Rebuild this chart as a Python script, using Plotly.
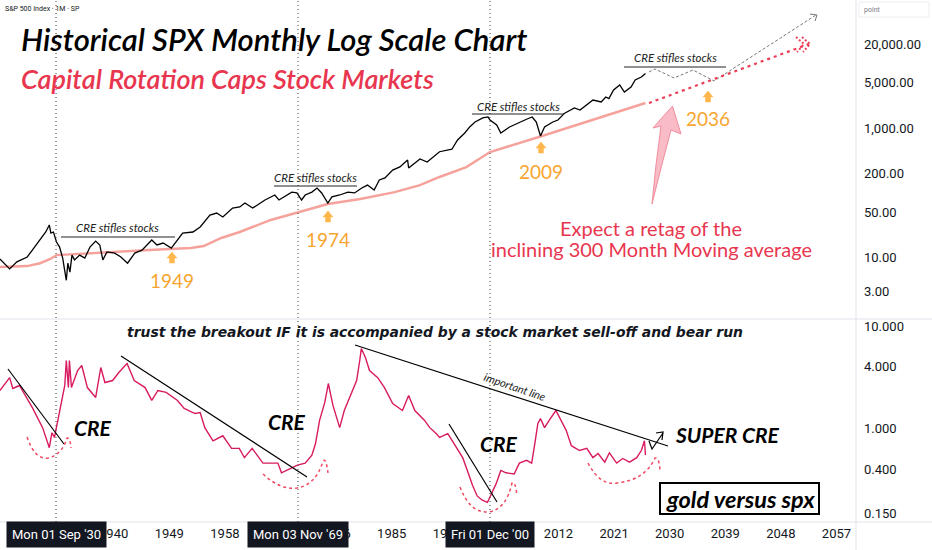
import plotly.graph_objects as go

# S&P 500 monthly closes
spx_dates = [
    "1921-08", "1923-03", "1924-05", "1926-01", "1926-11", "1928-02", "1929-01", "1929-08",
    "1929-11", "1930-04", "1930-10", "1931-04", "1931-10", "1932-05", "1932-08", "1932-12",
    "1933-04", "1933-09", "1934-07", "1935-05", "1936-03", "1937-02", "1937-10", "1938-04",
    "1938-12", "1940-03", "1941-03", "1942-04", "1943-06", "1944-08", "1946-03", "1947-01",
    "1948-01", "1949-05", "1950-04", "1951-03", "1952-11", "1954-01", "1955-08", "1956-09",
    "1957-09", "1959-04", "1960-06", "1961-04", "1962-07", "1964-07", "1966-02", "1966-10",
    "1968-11", "1969-09", "1970-06", "1971-01", "1972-02", "1972-12", "1973-09", "1974-09",
    "1975-05", "1976-08", "1977-12", "1979-01", "1980-03", "1981-02", "1982-03", "1983-01",
    "1983-12", "1985-03", "1986-05", "1987-08", "1987-10", "1988-10", "1989-08", "1990-10",
    "1991-09", "1992-10", "1994-10", "1995-09", "1996-11", "1997-09", "1998-07", "1999-10",
    "2000-08", "2000-12", "2002-01", "2002-09", "2004-02", "2005-06", "2006-12", "2007-10",
    "2008-06", "2009-02", "2009-10", "2011-02", "2011-12", "2013-01", "2014-08", "2015-07",
    "2016-10", "2017-08", "2018-12", "2019-09", "2020-03", "2020-12", "2021-12", "2022-09",
    "2023-10", "2024-06", "2025-06", "2026-02",
]
spx_close = [
    9.4, 6.6, 8.5, 10.1, 12.9, 18.5, 24.6, 31.6,
    23.7, 24.6, 17.2, 14.4, 9.7, 4.4, 8.1, 5.9,
    10.8, 9.1, 10.8, 9.7, 14.4, 17.8, 15.5, 9.1,
    12.1, 11.6, 10.1, 8.1, 11.6, 12.9, 18.5, 15.5,
    16.6, 13.9, 18.5, 23.7, 24.6, 29.4, 45, 48.4,
    42, 57.8, 60, 69, 57.8, 77, 92, 77,
    102, 99, 77, 92, 102, 118, 99, 69,
    86, 92, 102, 99, 118, 131, 110, 157,
    169, 224, 250, 320, 241, 288, 332, 298,
    356, 430, 470, 653, 838, 1050, 1241, 1432,
    1484, 1333, 1114, 838, 1038, 1197, 1380, 1484,
    1241, 753, 1038, 1241, 1333, 1700, 2043, 1900,
    2400, 2716, 2531, 3027, 2850, 3880, 4637, 3610,
    4317, 5541, 6170, 7000,
]

# 300 month moving average
ma_dates = [
    "1921-08", "1926-01", "1928-02", "1929-10", "1930-10", "1937-10", "1945-10", "1952-07",
    "1954-08", "1957-06", "1960-06", "1965-06", "1969-11", "1974-09", "1979-12", "1985-07",
    "1989-08", "1992-10", "1997-02", "2000-12", "2009-02", "2026-02",
]
ma_values = [
    7.1, 7.3, 8.1, 9.4, 10.8, 11.6, 12.9, 13.9,
    14.9, 19.9, 24.6, 37.8, 50, 66.7, 80, 102,
    131, 175, 249, 425, 740, 2440,
]

# gold / spx ratio
ratio_dates = [
    "1921-08", "1923-03", "1923-09", "1924-10", "1926-11", "1928-07", "1929-08", "1930-01",
    "1930-06", "1931-01", "1931-07", "1932-02", "1932-05", "1932-09", "1932-11", "1933-03",
    "1934-03", "1934-11", "1935-10", "1937-02", "1937-12", "1938-08", "1939-11", "1940-11",
    "1942-03", "1943-05", "1945-02", "1946-03", "1947-03", "1948-07", "1950-05", "1951-06",
    "1953-03", "1954-01", "1954-10", "1956-02", "1957-09", "1959-02", "1960-05", "1961-03",
    "1962-06", "1964-03", "1966-08", "1967-03", "1968-10", "1969-10", "1971-01", "1972-02",
    "1972-09", "1973-05", "1974-03", "1974-10", "1975-07", "1976-08", "1977-05", "1978-03",
    "1979-05", "1979-11", "1980-02", "1980-10", "1981-06", "1982-10", "1983-11", "1985-03",
    "1986-10", "1987-10", "1988-10", "1990-05", "1991-03", "1992-04", "1992-10", "1994-02",
    "1995-03", "1996-07", "1997-04", "1998-02", "1998-11", "1999-09", "2000-07", "2001-03",
    "2001-12", "2002-09", "2003-07", "2004-11", "2005-09", "2006-11", "2007-09", "2008-03",
    "2008-09", "2009-02", "2009-10", "2010-07", "2011-08", "2012-06", "2013-04", "2014-02",
    "2015-06", "2016-08", "2017-08", "2018-06", "2019-07", "2020-04", "2021-06", "2022-06",
    "2023-07", "2024-09", "2025-06", "2025-12", "2026-02",
]
ratio_values = [
    2.35, 3.14, 2.46, 2.63, 1.60, 1.02, 0.65, 0.91,
    0.82, 1.25, 1.75, 2.63, 4.61, 2.51, 4.61, 2.51,
    3.68, 4.12, 2.51, 2.01, 3.94, 2.81, 2.94, 3.52,
    4.31, 2.94, 2.51, 1.88, 2.35, 2.25, 1.88, 1.57,
    1.40, 1.43, 1.02, 0.76, 0.85, 0.64, 0.64, 0.52,
    0.64, 0.46, 0.46, 0.37, 0.41, 0.44, 0.46, 0.55,
    0.71, 1.20, 1.79, 2.75, 1.68, 1.02, 1.50, 2.01,
    2.94, 4.61, 6.03, 4.93, 3.68, 3.14, 2.51, 1.75,
    1.50, 2.10, 1.50, 1.20, 1.02, 0.89, 0.82, 0.89,
    0.71, 0.52, 0.39, 0.28, 0.22, 0.20, 0.19, 0.23,
    0.29, 0.39, 0.37, 0.36, 0.46, 0.49, 0.46, 0.71,
    1.12, 1.25, 1.02, 1.20, 1.50, 1.20, 0.96, 0.68,
    0.61, 0.64, 0.52, 0.57, 0.47, 0.58, 0.46, 0.51,
    0.47, 0.52, 0.61, 0.76, 0.55,
]

year_ticks = ["1922", "1931", "1940", "1949", "1958", "1967", "1976", "1985",
              "1994", "2003", "2012", "2021", "2030", "2039", "2048", "2057"]
spx_ticks = [3, 10, 50, 200, 1000, 5000, 20000]
spx_tick_text = ["3.00", "10.00", "50.00", "200.00", "1,000.00", "5,000.00", "20,000.00"]
ratio_ticks = [0.15, 0.4, 1, 4, 10]
ratio_tick_text = ["0.150", "0.400", "1.000", "4.000", "10.000"]

crosshair_dates = ["1930-09-01", "1969-11-03", "2000-12-01"]
crosshair_labels = ["Mon 01 Sep '30", "Mon 03 Nov '69", "Fri 01 Dec '00"]

# drawings are placed in pixel space of the plot area (856 x 522)
PW, PH = 856, 522
FONT = "Lato"
WIDE = "DejaVu Sans"
RED = "#e8364f"
ORANGE = "#f7a531"


def px(x, y):
    return x / PW, (PH - y) / PH


def path(points, close=False):
    parts = []
    for i, (x, y) in enumerate(points):
        u, v = px(x, y)
        parts.append(("M" if i == 0 else "L") + f"{u:.5f},{v:.5f}")
    return " ".join(parts) + (" Z" if close else "")


def curve(start, segs):
    u, v = px(*start)
    s = f"M{u:.5f},{v:.5f}"
    for c, e in segs:
        cu, cv = px(*c)
        eu, ev = px(*e)
        s += f" Q{cu:.5f},{cv:.5f} {eu:.5f},{ev:.5f}"
    return s


def text(x, y, t, size, color="#131722", weight="normal", style="normal", family=FONT,
         xanchor="center", **kw):
    u, v = px(x, y)
    return dict(x=u, y=v, xref="paper", yref="paper", text=t, showarrow=False,
                xanchor=xanchor, yanchor="middle",
                font=dict(family=family, size=size, color=color, weight=weight, style=style), **kw)


fig = go.Figure()

fig.add_trace(go.Scatter(x=ma_dates, y=ma_values, mode="lines",
                         line=dict(color="#f6a29c", width=2.5), yaxis="y"))
fig.add_trace(go.Scatter(x=spx_dates, y=spx_close, mode="lines",
                         line=dict(color="#000000", width=1.3), yaxis="y"))
fig.add_trace(go.Scatter(x=ratio_dates, y=ratio_values, mode="lines",
                         line=dict(color="#d81b60", width=1.4), yaxis="y2"))

shapes = []
annotations = []

# pane frame lines
grey = "#e0e3eb"
shapes.append(dict(type="line", xref="paper", yref="paper", x0=0, x1=932 / PW,
                   y0=px(0, 319)[1], y1=px(0, 319)[1], line=dict(color=grey, width=1)))
shapes.append(dict(type="line", xref="paper", yref="paper", x0=0, x1=932 / PW,
                   y0=0, y1=0, line=dict(color=grey, width=1)))
shapes.append(dict(type="line", xref="paper", yref="paper", x0=1, x1=1,
                   y0=-28 / PH, y1=1, line=dict(color=grey, width=1)))
shapes.append(dict(type="rect", xref="paper", yref="paper",
                   x0=px(859, 2)[0], x1=px(929, 2)[0], y0=px(0, 2)[1], y1=px(0, 17)[1],
                   line=dict(color="#eceef3", width=1)))
annotations.append(text(862, 10, "point", 7, "#787b86", family="Roboto", xanchor="left"))
annotations.append(text(3, 9, "S&P 500 Index · 1M · SP", 7, "#131722", family="Roboto",
                        xanchor="left"))

# crosshair lines and date labels
for d, lab in zip(crosshair_dates, crosshair_labels):
    shapes.append(dict(type="line", xref="x", yref="paper", x0=d, x1=d, y0=0, y1=1,
                       line=dict(color="#3a3a3a", width=1, dash="1px,3px")))
    annotations.append(dict(x=d, y=-12 / PH, xref="x", yref="paper", text=lab,
                            showarrow=False, bgcolor="#131722", borderpad=5,
                            xanchor="center", yanchor="middle",
                            font=dict(family="Roboto", size=13, color="#ffffff")))

# titles
annotations.append(text(19, 39, "Historical SPX Monthly Log Scale Chart", 31,
                        "#000000", 600, "italic", xanchor="left"))
annotations.append(text(19, 78, "Capital Rotation Caps Stock Markets", 27,
                        RED, 600, "italic", xanchor="left"))

# CRE stifles stocks
for cx, cy, x0, x1, ly in [(118, 227, 61, 175, 237), (315, 177, 274, 357, 186),
                           (518, 106, 472, 564, 114), (675, 57, 624, 726, 67)]:
    annotations.append(text(cx, cy, "CRE stifles stocks", 11.5, "#222222", "normal", "italic"))
    shapes.append(dict(type="path", xref="paper", yref="paper",
                       path=path([(x0, ly), (x1, ly)]), line=dict(color="#222222", width=1.2)))

# orange markers with years
for cx, ay, ty, lab in [(172, 258, 280, "1949"), (328, 217, 239, "1974"),
                        (541, 148, 171, "2009"), (708, 97, 118, "2036")]:
    shapes.append(dict(type="path", xref="paper", yref="paper", fillcolor="#ffb74d",
                       line=dict(color="#ffb74d", width=0.5),
                       path=path([(cx - 5, ay), (cx, ay - 6), (cx + 5, ay), (cx + 2.5, ay),
                                  (cx + 2.5, ay + 5), (cx - 2.5, ay + 5), (cx - 2.5, ay)], True)))
    annotations.append(text(cx, ty, lab, 19, ORANGE))

# projection of spx (grey dashed) and of the moving average (red dotted)
shapes.append(dict(type="path", xref="paper", yref="paper",
                   path=path([(649, 72), (655, 69), (674, 78), (693, 70), (714, 81), (816, 15)]),
                   line=dict(color="#777777", width=1, dash="3px,2px")))
shapes.append(dict(type="path", xref="paper", yref="paper",
                   path=path([(810, 14), (817, 15), (815, 21)]),
                   line=dict(color="#777777", width=1)))
shapes.append(dict(type="path", xref="paper", yref="paper",
                   path=path([(649, 103), (809, 44)]),
                   line=dict(color="#ec3f57", width=2.2, dash="3px,4px")))
for off in (0, -6):
    shapes.append(dict(type="path", xref="paper", yref="paper",
                       path=path([(802 + off, 37), (810 + off, 44), (803 + off, 52)]),
                       line=dict(color="#ec3f57", width=2, dash="2px,2px")))

# big pink arrow
shapes.append(dict(type="path", xref="paper", yref="paper",
                   path=path([(652, 204), (656, 165), (661, 126), (653, 128), (672.5, 106),
                              (681, 134), (671, 130), (661, 168)], True),
                   fillcolor="rgba(247,170,182,0.8)", line=dict(color="#f08d9e", width=1)))

annotations.append(text(651, 228, "Expect a retag of the", 20, RED))
annotations.append(text(651, 249, "inclining 300 Month Moving average", 20, RED))

# lower pane drawings
annotations.append(text(435, 332, "trust the breakout IF it is accompanied by a stock market sell-off and bear run",
                        13.9, "#131722", "bold", "italic", WIDE))
for cx, cy in [(93, 427), (287, 421), (499, 443)]:
    annotations.append(text(cx, cy, "CRE", 21, "#000000", "bold", "italic"))
annotations.append(text(727, 434, "SUPER CRE", 21, "#000000", "bold", "italic"))

for seg in [[(8, 369), (64, 444)], [(121, 356), (307, 477)],
            [(355, 345), (668, 446)], [(449, 424), (497, 502)]]:
    shapes.append(dict(type="path", xref="paper", yref="paper", path=path(seg),
                       line=dict(color="#000000", width=1.2)))
annotations.append(text(515, 386, "important line", 11, "#222222", "normal", "italic", textangle=19))

shapes.append(dict(type="path", xref="paper", yref="paper",
                   path=path([(649, 441), (652, 449), (663, 433)]),
                   line=dict(color="#000000", width=1.2)))
shapes.append(dict(type="path", xref="paper", yref="paper",
                   path=path([(656, 433), (663, 432), (662, 440)]),
                   line=dict(color="#000000", width=1.2)))

for start, segs in [
    ((27, 437), [((35, 460), (48, 458)), ((62, 455), (67, 438)), ((70, 437), (71, 448))]),
    ((263, 474), [((280, 490), (297, 488)), ((316, 485), (323, 461)), ((326, 457), (328, 473))]),
    ((460, 487), [((470, 513), (488, 512)), ((506, 510), (512, 483)), ((515, 480), (517, 495))]),
    ((588, 463), [((600, 486), (617, 483)), ((645, 480), (655, 458)), ((659, 457), (660, 470))]),
]:
    shapes.append(dict(type="path", xref="paper", yref="paper", path=curve(start, segs),
                       line=dict(color="#f04a62", width=1.5, dash="3px,3px")))

shapes.append(dict(type="rect", xref="paper", yref="paper",
                   x0=px(660, 0)[0], x1=px(819, 0)[0], y0=px(0, 514)[1], y1=px(0, 483)[1],
                   line=dict(color="#000000", width=2)))
annotations.append(text(740, 499, "gold versus spx", 23.5, "#000000", "bold", "italic"))

fig.update_layout(
    width=932,
    height=550,
    margin=dict(l=0, r=76, t=0, b=28),
    paper_bgcolor="#ffffff",
    plot_bgcolor="#ffffff",
    showlegend=False,
    xaxis=dict(
        type="date",
        range=["1921-08-07", "2060-03-01"],
        anchor="y2",
        tickvals=[y + "-01-01" for y in year_ticks],
        ticktext=year_ticks,
        showgrid=False,
        zeroline=False,
        ticks="",
        ticklabelstandoff=2,
        tickfont=dict(family="Roboto", size=13, color="#131722"),
    ),
    yaxis=dict(
        type="log",
        domain=[(PH - 318) / PH, 1],
        range=[0.06, 4.982],
        side="right",
        anchor="x",
        tickvals=spx_ticks,
        ticktext=spx_tick_text,
        showgrid=False,
        zeroline=False,
        ticklabelstandoff=7,
        tickfont=dict(family="Roboto", size=13, color="#131722"),
    ),
    yaxis2=dict(
        type="log",
        domain=[0, (PH - 320) / PH],
        range=[-0.912, 1.059],
        side="right",
        anchor="x",
        tickvals=ratio_ticks,
        ticktext=ratio_tick_text,
        showgrid=False,
        zeroline=False,
        ticklabelstandoff=7,
        tickfont=dict(family="Roboto", size=13, color="#131722"),
    ),
    shapes=shapes,
    annotations=annotations,
)

# the page body has a default 8px margin; drop it so the figure fills the window
fig.write_html("out.html", config={"displayModeBar": False},
               post_script="document.body.style.margin = '0';")
